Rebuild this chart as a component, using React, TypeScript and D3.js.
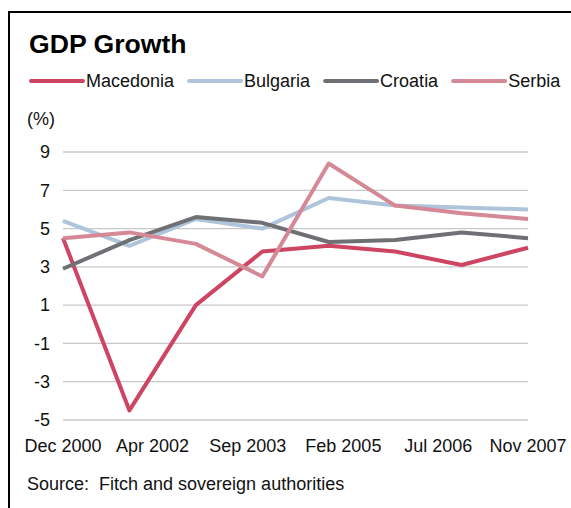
import React, { useEffect, useRef } from 'react';
import * as d3 from 'd3';

const years = [2000, 2001, 2002, 2003, 2004, 2005, 2006, 2007];
const macedonia = [4.5, -4.5, 1.0, 3.8, 4.1, 3.8, 3.1, 4.0];
const bulgaria = [5.4, 4.1, 5.5, 5.0, 6.6, 6.2, 6.1, 6.0];
const croatia = [2.9, 4.4, 5.6, 5.3, 4.3, 4.4, 4.8, 4.5];
const serbia = [4.5, 4.8, 4.2, 2.5, 8.4, 6.2, 5.8, 5.5];
const yTicks = [9, 7, 5, 3, 1, -1, -3, -5];
const xTickLabels = ['Dec 2000', 'Apr 2002', 'Sep 2003', 'Feb 2005', 'Jul 2006', 'Nov 2007'];

const seriesList = [
  { name: 'Macedonia', values: macedonia, color: '#cd4562' },
  { name: 'Bulgaria', values: bulgaria, color: '#aec4da' },
  { name: 'Croatia', values: croatia, color: '#6e7074' },
  { name: 'Serbia', values: serbia, color: '#d58896' },
];

const FONT = '"Liberation Sans", Arial, sans-serif';

const App: React.FC = () => {
  const svgRef = useRef<SVGSVGElement>(null);

  useEffect(() => {
    if (!svgRef.current) return;
    const svg = d3.select(svgRef.current);
    svg.selectAll('*').remove();

    const left = 63, right = 528, top = 152, bottom = 420;

    // frame (left + top edges)
    svg.append('path')
      .attr('d', `M9,508 L9,12 L571,12`)
      .attr('fill', 'none')
      .attr('stroke', '#000')
      .attr('stroke-width', 2);

    svg.append('text')
      .attr('x', 29).attr('y', 53)
      .style('font-family', FONT).style('font-size', '26.6px').style('font-weight', 'bold')
      .attr('fill', '#000')
      .text('GDP Growth');

    // legend
    let lx = 31;
    seriesList.forEach(s => {
      svg.append('line')
        .attr('x1', lx).attr('x2', lx + 52)
        .attr('y1', 81).attr('y2', 81)
        .attr('stroke', s.color).attr('stroke-width', 4).attr('stroke-linecap', 'round');
      const t = svg.append('text')
        .attr('x', lx + 55).attr('y', 87)
        .style('font-family', FONT).style('font-size', '18px')
        .attr('fill', '#111')
        .text(s.name);
      const w = (t.node() as SVGTextElement).getComputedTextLength();
      lx = lx + 55 + w + 15;
    });

    svg.append('text')
      .attr('x', 27).attr('y', 125)
      .style('font-family', FONT).style('font-size', '18px')
      .attr('fill', '#111')
      .text('(%)');

    const x = d3.scaleLinear().domain([years[0], years[years.length - 1]]).range([left, right]);
    const y = d3.scaleLinear().domain([-5, 9]).range([bottom, top]);
    const xLab = d3.scaleTime()
      .domain([new Date(2000, 11, 1), new Date(2007, 10, 1)])
      .range([left, right]);
    const labelDates = xTickLabels.map(l => d3.timeParse('%b %Y')(l) as Date);

    // grid
    svg.append('g')
      .selectAll('line')
      .data(yTicks)
      .enter().append('line')
      .attr('x1', left).attr('x2', right)
      .attr('y1', d => y(d)).attr('y2', d => y(d))
      .attr('stroke', '#c8c8c8').attr('stroke-width', 1.3);

    svg.append('g')
      .selectAll('text')
      .data(yTicks)
      .enter().append('text')
      .attr('x', 50).attr('y', d => y(d))
      .attr('dy', '0.35em')
      .attr('text-anchor', 'end')
      .style('font-family', FONT).style('font-size', '18px')
      .attr('fill', '#111')
      .text(d => String(d));

    svg.append('g')
      .selectAll('text')
      .data(xTickLabels)
      .enter().append('text')
      .attr('x', (d, i) => xLab(labelDates[i]))
      .attr('y', 452)
      .attr('text-anchor', 'middle')
      .style('font-family', FONT).style('font-size', '18px')
      .attr('fill', '#111')
      .text(d => d);

    const line = d3.line<number>()
      .x((d, i) => x(years[i]))
      .y(d => y(d));

    seriesList.forEach(s => {
      svg.append('path')
        .datum(s.values)
        .attr('fill', 'none')
        .attr('stroke', s.color)
        .attr('stroke-width', 4)
        .attr('stroke-linejoin', 'round')
        .attr('d', line);
    });

    svg.append('text')
      .attr('x', 27).attr('y', 490)
      .attr('xml:space', 'preserve')
      .style('white-space', 'pre')
      .style('font-family', FONT).style('font-size', '18px')
      .attr('fill', '#111')
      .text('Source:  Fitch and sovereign authorities');
  }, []);

  return (
    <svg
      ref={svgRef}
      width={571}
      height={508}
      style={{ position: 'absolute', left: 0, top: 0, background: '#fff' }}
    />
  );
};

export default App;
